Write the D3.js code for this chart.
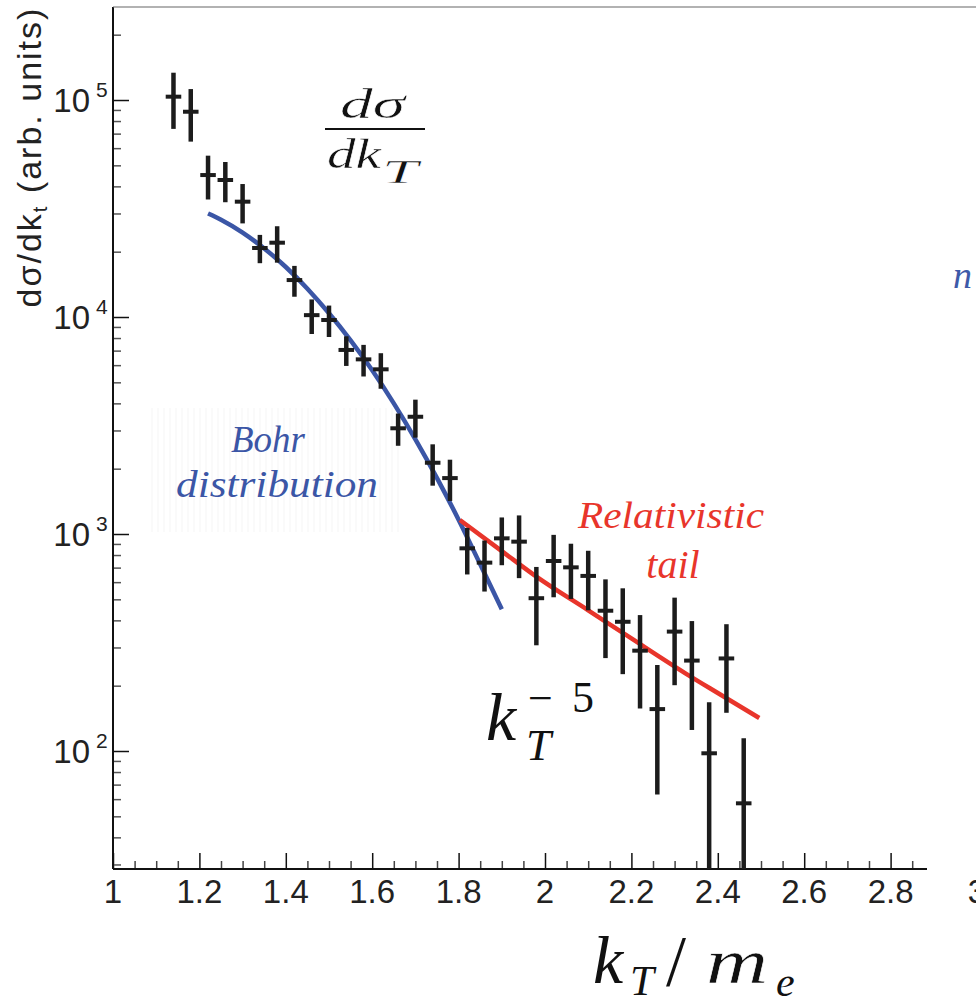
<!DOCTYPE html>
<html>
<head>
<meta charset="utf-8">
<script src="https://cdn.jsdelivr.net/npm/d3@7"></script>
<style>
  body { margin: 0; background: #fff; }
  svg { display: block; }
  .thin { stroke: #fff; stroke-width: 0.5px; }
</style>
</head>
<body>
<div id="chart"></div>
<script>
// Data
const kBins = [1.14, 1.18, 1.22, 1.26, 1.30, 1.34, 1.38, 1.42, 1.46, 1.50, 1.54, 1.58,
               1.62, 1.66, 1.70, 1.74, 1.78, 1.82, 1.86, 1.90, 1.94, 1.98, 2.02, 2.06,
               2.10, 2.14, 2.18, 2.22, 2.26, 2.30, 2.34, 2.38, 2.42, 2.46];
const sigma = [103600, 88300, 45100, 42800, 34000, 20800, 22000, 14800, 10200, 9690, 7050, 6380,
               5740, 3070, 3470, 2130, 1810, 859, 738, 955, 922, 506, 751, 702,
               641, 443, 394, 290, 156, 355, 261, 97.6, 267, 57.4];
const sigmaErr = [30000, 24000, 10300, 9000, 7000, 3100, 4200, 2400, 1850, 1600, 1100, 1060,
                  1070, 520, 690, 460, 390, 208, 195, 237, 296, 199, 240, 200,
                  196, 175, 168, 133, 93, 154, 136, 70, 117, 57];

// Bohr distribution curve (blue)
const bohrK = [1.22, 1.25, 1.30, 1.35, 1.40, 1.45, 1.50, 1.55, 1.60, 1.65, 1.70, 1.75, 1.80, 1.85, 1.90];
const bohrSigma = [30000, 28100, 24500, 20700, 17000, 13500, 10400, 7800, 5680, 4000, 2730, 1810, 1164, 725, 450];

// relativistic tail (red)
const tailK = [1.803, 1.90, 1.98, 2.10, 2.20, 2.325, 2.40, 2.496];
const tailSigma = [1160, 834, 636, 445, 330, 228, 185, 142];

// axis labels
const xTickLabels = ["1", "1.2", "1.4", "1.6", "1.8", "2", "2.2", "2.4", "2.6", "2.8", "3"];
const yTickExps = [2, 3, 4, 5];

const width = 976, height = 1005;
const margin = {left: 113, right: 927, top: 7, bottom: 869};

const svg = d3.select("#chart")
  .append("svg")
  .attr("width", width)
  .attr("height", height);

// Scales (1 unit of k = 432 px, one decade = 217 px)
const x = d3.scaleLinear().domain([1, 3]).range([margin.left, margin.left + 864]);
const y = d3.scaleLog().domain([28.59, 2.683e5]).range([margin.bottom, margin.top]);

svg.append("defs").append("clipPath").attr("id", "plotclip")
  .append("rect").attr("x", margin.left).attr("y", margin.top)
  .attr("width", margin.right - margin.left).attr("height", margin.bottom - margin.top);

// faint scan stripes behind the Bohr label
const stripes = svg.append("g").attr("opacity", 0.45);
stripes.selectAll("line")
  .data(d3.range(152, 400, 6))
  .enter()
  .append("line")
  .attr("x1", d => d).attr("x2", d => d)
  .attr("y1", 408).attr("y2", 532)
  .attr("stroke", "#f0f0f0")
  .attr("stroke-width", 1.5);

// ---- axes ----
const xMinor = d3.range(1, 2.86, 0.05).filter(v => Math.abs(v / 0.2 - Math.round(v / 0.2)) > 0.01);
const xMajor = xTickLabels.map(Number).filter(v => v < 2.9);

const yMinor = [];
[1, 2, 3, 4, 5].forEach(e => {
  for (let m = 2; m <= 9; m++) {
    const v = m * Math.pow(10, e);
    if (v >= y.domain()[0] && v <= y.domain()[1]) yMinor.push(v);
  }
});
const yMajor = yTickExps.map(e => Math.pow(10, e));

const axes = svg.append("g").attr("stroke-linecap", "butt");

// bottom axis: ticks point up
axes.append("g")
  .attr("transform", `translate(0,${margin.bottom})`)
  .call(d3.axisTop(x).tickValues(xMinor).tickSize(8).tickFormat(""))
  .call(g => g.select(".domain").remove())
  .call(g => g.selectAll("line").attr("stroke", "#444").attr("stroke-width", 1.5));
axes.append("g")
  .attr("transform", `translate(0,${margin.bottom})`)
  .call(d3.axisTop(x).tickValues(xMajor).tickSize(16).tickFormat(""))
  .call(g => g.select(".domain").remove())
  .call(g => g.selectAll("line").attr("stroke", "#111").attr("stroke-width", 1.5));

// left axis: ticks point right
axes.append("g")
  .attr("transform", `translate(${margin.left},0)`)
  .call(d3.axisRight(y).tickValues(yMinor).tickSize(8).tickFormat(""))
  .call(g => g.select(".domain").remove())
  .call(g => g.selectAll("line").attr("stroke", "#555").attr("stroke-width", 1.5));
axes.append("g")
  .attr("transform", `translate(${margin.left},0)`)
  .call(d3.axisRight(y).tickValues(yMajor).tickSize(16).tickFormat(""))
  .call(g => g.select(".domain").remove())
  .call(g => g.selectAll("line").attr("stroke", "#111").attr("stroke-width", 1.5));

// axis lines and top frame
axes.append("line").attr("x1", margin.left).attr("x2", margin.right)
  .attr("y1", margin.bottom).attr("y2", margin.bottom)
  .attr("stroke", "#111").attr("stroke-width", 2);
axes.append("line").attr("x1", margin.left).attr("x2", margin.left)
  .attr("y1", margin.top).attr("y2", margin.bottom)
  .attr("stroke", "#111").attr("stroke-width", 2);
axes.append("line").attr("x1", margin.left).attr("x2", width)
  .attr("y1", margin.top).attr("y2", margin.top)
  .attr("stroke", "#666").attr("stroke-width", 1.2);

// x tick labels
svg.append("g")
  .selectAll("text")
  .data(xTickLabels)
  .enter()
  .append("text")
  .attr("x", d => x(+d))
  .attr("y", 903)
  .attr("text-anchor", "middle")
  .style("font-family", "'Liberation Sans', Arial, sans-serif")
  .style("font-size", "33px")
  .attr("fill", "#222")
  .text(d => d);

// y tick labels: 10^n
const yLab = svg.append("g")
  .style("font-family", "'Liberation Sans', Arial, sans-serif")
  .attr("fill", "#222");
yLab.selectAll("text.base")
  .data(yTickExps)
  .enter()
  .append("text")
  .attr("class", "base")
  .attr("x", 90)
  .attr("y", d => y(Math.pow(10, d)) + 12)
  .attr("text-anchor", "end")
  .style("font-size", "33px")
  .text("10");
yLab.selectAll("text.exp")
  .data(yTickExps)
  .enter()
  .append("text")
  .attr("class", "exp")
  .attr("x", 96)
  .attr("y", d => y(Math.pow(10, d)) - 3)
  .style("font-size", "21px")
  .text(d => d);

// y axis title
const yTitle = svg.append("text")
  .attr("transform", "translate(41,157) rotate(-90)")
  .attr("text-anchor", "middle")
  .style("font-family", "'Liberation Sans', Arial, sans-serif")
  .style("font-size", "34px")
  .style("letter-spacing", "2px")
  .attr("fill", "#222");
yTitle.append("tspan").text("dσ/dk");
yTitle.append("tspan").attr("dy", 6).style("font-size", "20px").text("t");
yTitle.append("tspan").attr("dy", -6).text(" (arb. units)");

// ---- curves ----
const plot = svg.append("g").attr("clip-path", "url(#plotclip)");

const line = d3.line()
  .x(d => x(d[0]))
  .y(d => y(d[1]))
  .curve(d3.curveMonotoneX);

plot.append("path")
  .datum(d3.zip(bohrK, bohrSigma))
  .attr("d", line)
  .attr("fill", "none")
  .attr("stroke", "#3b56a6")
  .attr("stroke-width", 4.5);

plot.append("path")
  .datum(d3.zip(tailK, tailSigma))
  .attr("d", line)
  .attr("fill", "none")
  .attr("stroke", "#e8352b")
  .attr("stroke-width", 4.5);

// ---- data points with error bars ----
const points = d3.zip(kBins, sigma, sigmaErr);
const binHalf = 0.018;
const yMin = y.domain()[0];

plot.append("g")
  .selectAll("line")
  .data(points)
  .enter()
  .append("line")
  .attr("x1", d => x(d[0])).attr("x2", d => x(d[0]))
  .attr("y1", d => y(d[1] + d[2]))
  .attr("y2", d => y(Math.max(d[1] - d[2], yMin * 0.5)))
  .attr("stroke", "#1c1c1c")
  .attr("stroke-width", 4.5);

plot.append("g")
  .selectAll("line")
  .data(points)
  .enter()
  .append("line")
  .attr("x1", d => x(d[0] - binHalf)).attr("x2", d => x(d[0] + binHalf))
  .attr("y1", d => y(d[1])).attr("y2", d => y(d[1]))
  .attr("stroke", "#1c1c1c")
  .attr("stroke-width", 4);

// ---- annotations ----
const mathFont = "'Liberation Serif', 'Times New Roman', serif";

// d sigma / d k_T (stretched sideways like the slide, strokes thinned back a little)
const frac = svg.append("g").style("font-family", mathFont).attr("fill", "#111");
frac.append("text").attr("class", "thin").attr("x", 340).attr("y", 118)
  .style("font-style", "italic").style("font-size", "42px")
  .attr("textLength", 65).attr("lengthAdjust", "spacingAndGlyphs").text("dσ");
frac.append("line").attr("x1", 325).attr("x2", 425).attr("y1", 129).attr("y2", 129)
  .attr("stroke", "#111").attr("stroke-width", 2);
frac.append("text").attr("class", "thin").attr("x", 327).attr("y", 168)
  .style("font-style", "italic").style("font-size", "42px")
  .attr("textLength", 54).attr("lengthAdjust", "spacingAndGlyphs").text("dk");
frac.append("text").attr("class", "thin").attr("x", 382).attr("y", 183)
  .style("font-style", "italic").style("font-size", "34px")
  .attr("textLength", 36).attr("lengthAdjust", "spacingAndGlyphs").text("T");

// Bohr distribution label
const blue = "#3b56a6";
svg.append("text").attr("x", 268).attr("y", 452).attr("text-anchor", "middle")
  .style("font-family", mathFont).style("font-style", "italic").style("font-size", "37px")
  .attr("fill", blue).text("Bohr");
svg.append("text").attr("x", 277).attr("y", 497).attr("text-anchor", "middle")
  .style("font-family", mathFont).style("font-style", "italic").style("font-size", "37px")
  .attr("fill", blue).attr("textLength", 202).attr("lengthAdjust", "spacingAndGlyphs")
  .text("distribution");

// Relativistic tail label
const red = "#e8352b";
svg.append("text").attr("x", 671).attr("y", 528).attr("text-anchor", "middle")
  .style("font-family", mathFont).style("font-style", "italic").style("font-size", "37px")
  .attr("fill", red).attr("textLength", 186).attr("lengthAdjust", "spacingAndGlyphs")
  .text("Relativistic");
svg.append("text").attr("x", 673).attr("y", 578).attr("text-anchor", "middle")
  .style("font-family", mathFont).style("font-style", "italic").style("font-size", "40px")
  .attr("fill", red).text("tail");

// k_T^-5
const pw = svg.append("g").style("font-family", mathFont).attr("fill", "#111");
pw.append("text").attr("x", 486).attr("y", 740).style("font-style", "italic")
  .style("font-size", "68px").text("k");
pw.append("text").attr("x", 526).attr("y", 760).style("font-style", "italic")
  .style("font-size", "45px").text("T");
pw.append("text").attr("x", 528).attr("y", 713).style("font-size", "44px").text("−");
pw.append("text").attr("x", 572).attr("y", 712).style("font-size", "44px").text("5");

// x axis title k_T / m_e
const xt = svg.append("g").style("font-family", mathFont).attr("fill", "#111");
xt.append("text").attr("x", 593).attr("y", 983).style("font-style", "italic")
  .style("font-size", "68px").text("k");
xt.append("text").attr("x", 630).attr("y", 995).style("font-style", "italic")
  .style("font-size", "43px").text("T");
xt.append("text").attr("x", 666).attr("y", 985).style("font-size", "72px").text("/");
xt.append("text").attr("class", "thin").attr("x", 706).attr("y", 983).style("font-style", "italic")
  .style("font-size", "64px").attr("textLength", 62).attr("lengthAdjust", "spacingAndGlyphs").text("m");
xt.append("text").attr("x", 776).attr("y", 996).style("font-style", "italic")
  .style("font-size", "42px").text("e");

// cut-off word at the right edge
svg.append("text").attr("x", 953).attr("y", 288)
  .style("font-family", mathFont).style("font-style", "italic").style("font-size", "38px")
  .attr("fill", "#3d5aa8").text("n");
</script>
</body>
</html>
